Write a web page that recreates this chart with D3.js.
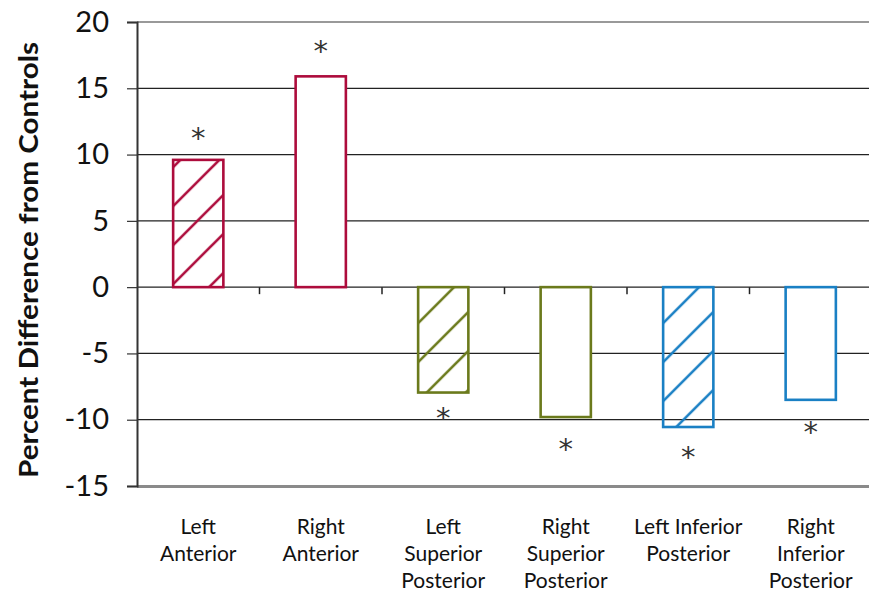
<!DOCTYPE html>
<html>
<head>
<meta charset="utf-8">
<script src="https://cdn.jsdelivr.net/npm/d3@7"></script>
<style>
  body { margin: 0; background: #fff; }
  svg text { font-family: Lato, "Open Sans", sans-serif; }
</style>
</head>
<body>
<div id="chart"></div>
<script>
// Chart data
const regions = ["Left Anterior", "Right Anterior", "Left Superior Posterior",
                 "Right Superior Posterior", "Left Inferior Posterior", "Right Inferior Posterior"];
const labelLines = [["Left", "Anterior"], ["Right", "Anterior"], ["Left", "Superior", "Posterior"],
                    ["Right", "Superior", "Posterior"], ["Left Inferior", "Posterior"], ["Right", "Inferior", "Posterior"]];
const percentDiff = [9.6, 15.9, -7.95, -9.8, -10.55, -8.5];
const starValue = [11.7, 18.3, -9.4, -11.75, -12.35, -10.45];
const hatched = [true, false, true, false, true, false];
const colors = ["#AD0C3C", "#AD0C3C", "#6B7A1C", "#6B7A1C", "#1A80C4", "#1A80C4"];
const yTicks = [-15, -10, -5, 0, 5, 10, 15, 20];

const width = 869;
const height = 597;
const margin = {left: 137, right: -3, top: 22, bottom: 111};

const svg = d3.select("#chart")
  .append("svg")
  .attr("width", width)
  .attr("height", height);

// scales
const yScale = d3.scaleLinear()
  .domain([-15, 20])
  .range([height - margin.bottom, margin.top]);

const xScale = d3.scaleBand()
  .domain(d3.range(regions.length))
  .range([margin.left, width - margin.right])
  .paddingInner(0.59)
  .paddingOuter(0.295);

const band = xScale.step();

// hatch patterns, one per colour
const defs = svg.append("defs");
colors.forEach((c, i) => {
  const p = defs.append("pattern")
    .attr("id", "hatch" + i)
    .attr("patternUnits", "userSpaceOnUse")
    .attr("width", 39)
    .attr("height", 39)
    .attr("x", xScale(i))
    .attr("y", yScale(0) - 3);
  p.append("path")
    .attr("d", "M-5,44 L44,-5 M-10,10 L10,-10 M29,49 L49,29")
    .attr("stroke", c)
    .attr("stroke-width", 2.6);
});

// gridlines
svg.append("g")
  .selectAll("line")
  .data(yTicks.filter(t => t > -15 && t < 20))
  .join("line")
    .attr("x1", margin.left)
    .attr("x2", width)
    .attr("y1", d => yScale(d))
    .attr("y2", d => yScale(d))
    .attr("stroke", "#222")
    .attr("stroke-width", 1.2);

// top border
svg.append("line")
  .attr("x1", margin.left).attr("x2", width)
  .attr("y1", yScale(20)).attr("y2", yScale(20))
  .attr("stroke", "#999").attr("stroke-width", 2);

// bottom border
svg.append("line")
  .attr("x1", margin.left).attr("x2", width)
  .attr("y1", yScale(-15) + 0.5).attr("y2", yScale(-15) + 0.5)
  .attr("stroke", "#8a8a8a").attr("stroke-width", 3);

// y axis
const yAxis = svg.append("g")
  .attr("transform", `translate(${margin.left},0)`)
  .call(d3.axisLeft(yScale).tickValues(yTicks).tickSize(10).tickPadding(18))
  .attr("font-size", "29px");
yAxis.select(".domain").attr("stroke", "#333").attr("stroke-width", 2);
yAxis.selectAll(".tick line").attr("stroke", "#333").attr("stroke-width", 1.2);
yAxis.selectAll(".tick text")
  .attr("fill", "#111")
  .style("font-family", "Lato, sans-serif")
  .text(d => d < 0 ? "-" + Math.abs(d) : d);

// category tick marks along the zero line
svg.append("g")
  .selectAll("line")
  .data(d3.range(1, regions.length))
  .join("line")
    .attr("x1", i => margin.left + i * band)
    .attr("x2", i => margin.left + i * band)
    .attr("y1", yScale(0))
    .attr("y2", yScale(0) + 7)
    .attr("stroke", "#222")
    .attr("stroke-width", 1.5);

// bars
svg.selectAll(".bar")
  .data(percentDiff)
  .join("rect")
    .attr("class", "bar")
    .attr("x", (d, i) => xScale(i))
    .attr("y", d => yScale(Math.max(0, d)))
    .attr("width", xScale.bandwidth())
    .attr("height", d => Math.abs(yScale(d) - yScale(0)))
    .attr("fill", (d, i) => hatched[i] ? `url(#hatch${i})` : "#fff")
    .attr("stroke", (d, i) => colors[i])
    .attr("stroke-width", 2.6);

// significance stars
svg.selectAll(".star")
  .data(starValue)
  .join("text")
    .attr("class", "star")
    .attr("x", (d, i) => xScale(i) + xScale.bandwidth() / 2)
    .attr("y", d => yScale(d) + 16)
    .attr("text-anchor", "middle")
    .attr("font-size", "29px")
    .attr("fill", "#333")
    .style("font-family", "'DejaVu Sans', sans-serif")
    .text("*");

// x labels
const xl = svg.append("g")
  .selectAll("text")
  .data(labelLines)
  .join("text")
    .attr("x", (d, i) => xScale(i) + xScale.bandwidth() / 2)
    .attr("y", 534)
    .attr("text-anchor", "middle")
    .attr("font-size", "21px")
    .attr("fill", "#111");
xl.selectAll("tspan")
  .data(d => d)
  .join("tspan")
    .attr("x", function() { return this.parentNode.getAttribute("x"); })
    .attr("dy", (d, j) => j === 0 ? 0 : 27)
    .text(d => d);

// y axis title
svg.append("text")
  .attr("transform", `translate(38,${(yScale(20) + yScale(-15)) / 2 + 6}) rotate(-90)`)
  .attr("text-anchor", "middle")
  .attr("font-size", "26px")
  .attr("font-weight", "bold")
  .attr("fill", "#111")
  .attr("textLength", 436)
  .attr("lengthAdjust", "spacingAndGlyphs")
  .text("Percent Difference from Controls");
</script>
</body>
</html>
